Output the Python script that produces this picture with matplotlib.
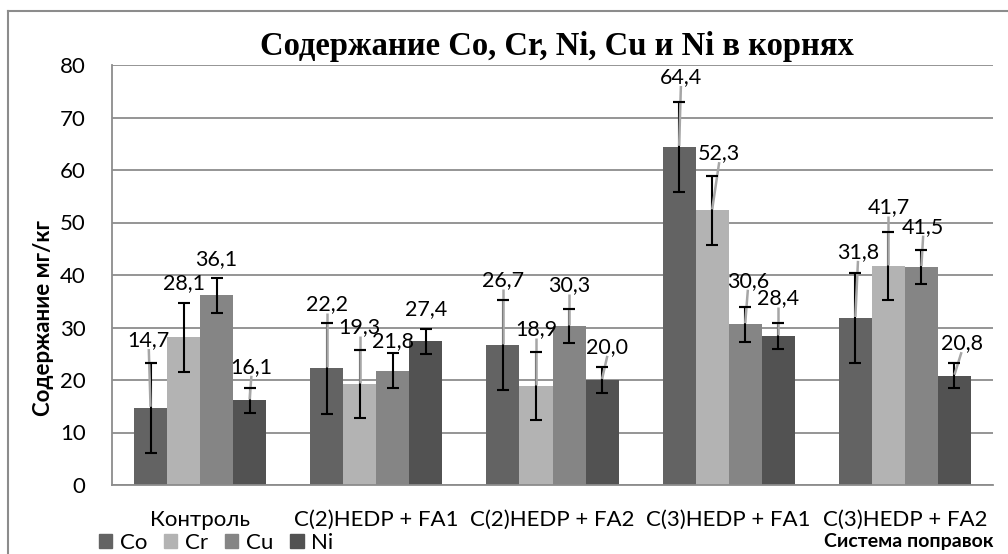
import matplotlib.pyplot as plt
import numpy as np
from matplotlib.lines import Line2D
from matplotlib.patches import Patch

plt.rcParams['font.family'] = ['Lato', 'DejaVu Sans']

# data
categories = ['Контроль', 'C(2)HEDP + FA1', 'C(2)HEDP + FA2', 'C(3)HEDP + FA1', 'C(3)HEDP + FA2']
names = ['Co', 'Cr', 'Cu', 'Ni']
co = [14.7, 22.2, 26.7, 64.4, 31.8]
cr = [28.1, 19.3, 18.9, 52.3, 41.7]
cu = [36.1, 21.8, 30.3, 30.6, 41.5]
ni = [16.1, 27.4, 20.0, 28.4, 20.8]
errs = [8.6, 6.5, 3.3, 2.4]

# where Excel put the (dragged) data labels
lab_y = [[27.6, 34.5, 39.0, 77.7, 44.4],
         [38.5, 30.1, 29.7, 63.2, 53.0],
         [43.0, 27.4, 38.1, 38.9, 49.2],
         [22.5, 33.5, 26.3, 35.6, 27.0]]
lab_dx = [[-0.01, 0.0, 0.0, 0.01, 0.015],
          [0.0, 0.0, 0.0, 0.04, 0.0],
          [0.0, 0.0, 0.0, 0.015, 0.01],
          [0.01, 0.0, 0.03, 0.0, 0.04]]
leader = [[1, 1, 1, 1, 1],
          [0, 1, 1, 1, 1],
          [0, 0, 1, 1, 1],
          [1, 0, 1, 1, 1]]

colors = ['#636363', '#b3b3b3', '#858585', '#525252']
grid_c = '#8c8c8c'

fig = plt.figure(figsize=(10.08, 5.54), dpi=100)
ax = fig.add_axes([112/1008, 69/554, 881/1008, 420/554])

x = np.arange(len(categories))
w = 0.1875
data = [co, cr, cu, ni]
for i, vals in enumerate(data):
    xs = x + (i - 1.5) * w
    ax.bar(xs, vals, w, color=colors[i], zorder=2)
    ax.errorbar(xs, vals, yerr=errs[i], fmt='none', ecolor='black',
                elinewidth=1.5, capsize=4.3, capthick=1.5, zorder=3)
    for j, v in enumerate(vals):
        lx = xs[j] + lab_dx[i][j]
        ly = lab_y[i][j]
        if leader[i][j]:
            ax.plot([xs[j], lx], [v + 0.2, ly - 1.7], color='#a6a6a6', lw=1.8,
                    solid_capstyle='butt', zorder=4)
            # keep the upper cap black on top of the leader
            ax.plot([xs[j]], [v + errs[i]], marker='_', ms=8.6, mew=1.5,
                    color='black', zorder=4.5)
        ax.text(lx, ly, f'{v:.1f}'.replace('.', ','), ha='center', va='center',
                fontsize=15.5, zorder=5)

ax.set_xlim(-0.5, 4.5)
ax.set_ylim(0, 80)
ax.set_yticks(range(0, 81, 10))
ax.set_xticks(x)
ax.set_xticklabels(categories, fontsize=16)
ax.tick_params(axis='y', labelsize=16, length=0, pad=19)
ax.tick_params(axis='x', length=0, pad=18)
ax.yaxis.grid(True, color=grid_c, lw=1.3, zorder=0)
ax.set_axisbelow(True)
for s in ['top', 'right']:
    ax.spines[s].set_visible(False)
for s in ['left', 'bottom']:
    ax.spines[s].set_color(grid_c)
    ax.spines[s].set_linewidth(1.3)

fig.text(44/1008, 1 - 318/554, 'Содержание мг/кг', fontsize=16, fontweight='bold',
         rotation=90, ha='center', va='center')
fig.text(557/1008, 1 - 55/554, 'Содержание Co, Cr, Ni, Cu и Ni в корнях',
         family='Liberation Serif', fontweight='bold', fontsize=23.5,
         ha='center', va='baseline')
fig.text(994/1008, 1 - 541/554, 'Система поправок', fontsize=14,
         fontweight='bold', ha='right', va='center')

handles = [Patch(color=c) for c in colors]
fig.legend(handles, names, loc='center left', bbox_to_anchor=(99/1008, 1 - 543/554),
           ncol=4, frameon=False, fontsize=16, handlelength=0.6, handleheight=0.6,
           handletextpad=0.35, columnspacing=0.75, borderpad=0, borderaxespad=0)

# chart area border
fig.add_artist(Line2D([8/1008, 8/1008], [0, 1 - 11/554], color=grid_c, lw=1.5))
fig.add_artist(Line2D([8/1008, 1], [1 - 11/554, 1 - 11/554], color=grid_c, lw=1.5))

fig.savefig('out.png', dpi=100)
